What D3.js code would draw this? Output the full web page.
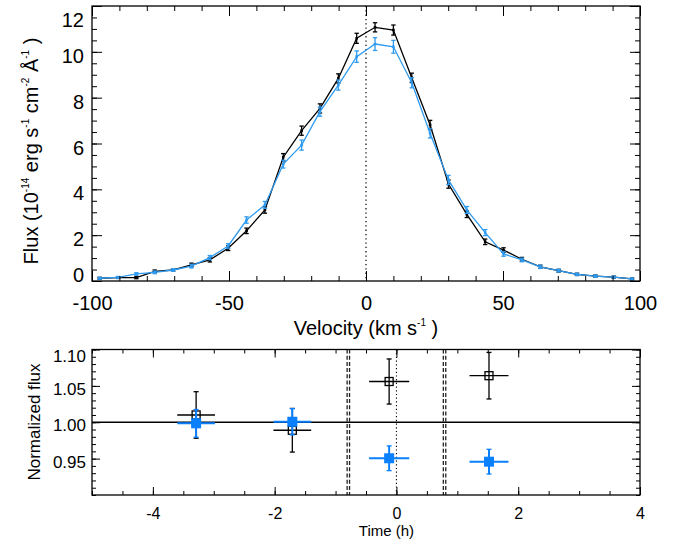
<!DOCTYPE html>
<html><head><meta charset="utf-8">
<script src="https://cdn.jsdelivr.net/npm/d3@7"></script>
<style>
body{margin:0;background:#fff;}
svg{display:block;font-family:"Liberation Sans",Arial,Helvetica,sans-serif;}
</style></head>
<body>
<svg id="chart" width="680" height="545"></svg>
<script>
// ---------- Data (top panel: line profile) ----------
const velocity = [-97.2,-90.5,-83.8,-77.1,-70.4,-63.7,-57.0,-50.3,-43.6,-36.9,-30.2,-23.5,-16.8,-10.1,-3.4,3.3,10.0,16.7,23.4,30.1,36.8,43.5,50.2,56.9,63.6,70.3,77.0,83.7,90.4,97.1];
const fluxBlack = [0.12,0.15,0.15,0.42,0.48,0.70,0.92,1.43,2.19,3.10,5.40,6.56,7.53,8.84,10.59,11.07,10.95,8.87,6.81,4.23,2.91,1.71,1.35,0.95,0.62,0.45,0.29,0.21,0.17,0.09];
const errBlack  = [0.04,0.04,0.05,0.06,0.06,0.08,0.09,0.10,0.12,0.14,0.16,0.20,0.20,0.20,0.22,0.20,0.22,0.20,0.20,0.18,0.14,0.12,0.10,0.08,0.07,0.06,0.05,0.05,0.04,0.04];
const fluxBlue  = [0.12,0.16,0.31,0.38,0.48,0.65,1.02,1.53,2.66,3.32,5.10,5.93,7.39,8.55,9.79,10.34,10.22,8.65,6.44,4.41,3.10,2.11,1.18,0.92,0.62,0.45,0.29,0.21,0.17,0.09];
const errBlue   = [0.04,0.04,0.05,0.06,0.06,0.08,0.09,0.10,0.14,0.15,0.17,0.22,0.20,0.22,0.25,0.28,0.28,0.22,0.20,0.20,0.15,0.13,0.10,0.08,0.07,0.06,0.05,0.05,0.04,0.04];
const velTicks = [-100,-50,0,50,100];
const fluxTicks = [0,2,4,6,8,10,12];

// ---------- Data (bottom panel: light curve) ----------
const times     = [-3.29,-1.71,-0.12,1.52];
const timeErr   = [0.31,0.31,0.33,0.32];
const normBlack = [1.010,0.989,1.056,1.064];
const nErrBlack = [0.032,0.030,0.031,0.032];
const normBlue  = [0.9985,1.0007,0.9505,0.9458];
const nErrBlue  = [0.019,0.018,0.017,0.017];
const transitLines = [-0.81,-0.77,0.77,0.81];
const timeTicks = [-4,-2,0,2,4];
const normTicks = [0.95,1.00,1.05,1.10];

const BLUE = "#2f9bf0";
const BLUE2 = "#0a80ff";
const svg = d3.select("#chart");
svg.append("rect").attr("width",680).attr("height",545).attr("fill","#fff");

function range(a,b,s){const r=[];for(let v=a;v<=b+1e-9;v+=s)r.push(+v.toFixed(4));return r;}
const hy = f => (d => f(d).replace("\u2212","-"));

function frameAxes(g, x, y, w, h, opt){
  const {xMaj,xMin,yMaj,yMin,majL,minL,fs,xPad,yPad,xFmt,yFmt} = opt;
  const sides = [
    {tr:`translate(0,${h})`, lab:true, maj:xMaj, min:xMin, pad:xPad, fmt:xFmt},
    {tr:`translate(0,0)`, lab:false, maj:xMaj, min:xMin},
    {tr:`translate(0,0)`, lab:true, maj:yMaj, min:yMin, pad:yPad, fmt:yFmt},
    {tr:`translate(${w},0)`, lab:false, maj:yMaj, min:yMin}
  ];
  const mk = i => (i===0?d3.axisBottom(x):i===1?d3.axisTop(x):i===2?d3.axisLeft(y):d3.axisRight(y));
  const out = {};
  sides.forEach((s,i)=>{
    const gm = g.append("g").attr("transform",s.tr)
      .call(mk(i).tickValues(s.min).tickSize(-minL).tickSizeOuter(0).tickFormat(""));
    gm.select(".domain").remove();
    gm.selectAll("line").attr("stroke","#000").attr("stroke-width",1);
    const a2 = mk(i).tickValues(s.maj).tickSize(-majL).tickSizeOuter(0).tickPadding(s.pad||0).tickFormat(s.lab?s.fmt:"");
    const gM = g.append("g").attr("transform",s.tr).call(a2);
    gM.select(".domain").remove();
    gM.selectAll("line").attr("stroke","#000").attr("stroke-width",1);
    gM.selectAll("text").attr("font-size",fs).attr("fill","#000").attr("font-family","Liberation Sans, Arial, sans-serif");
    out[i]=gM;
  });
  g.append("rect").attr("width",w).attr("height",h).attr("fill","none").attr("stroke","#000").attr("stroke-width",1.3);
  return out;
}

// ================= TOP PANEL =================
const T = {l:92, t:6, w:548, h:275};
const gT = svg.append("g").attr("transform",`translate(${T.l},${T.t})`);
const xV = d3.scaleLinear().domain([-100,100]).range([0,T.w]);
const yF = d3.scaleLinear().domain([0,12]).range([T.h,0]);

gT.append("line").attr("x1",xV(0)).attr("x2",xV(0)).attr("y1",0).attr("y2",T.h)
  .attr("stroke","#000").attr("stroke-width",1.2).attr("stroke-dasharray","1.3,3");

function profile(vals, errs, color){
  const pts = velocity.map((v,i)=>({v, f:vals[i], e:errs[i]}));
  gT.append("path").datum(pts).attr("fill","none").attr("stroke",color).attr("stroke-width",1.3)
    .attr("d", d3.line().x(d=>xV(d.v)).y(d=>yF(d.f)));
  const eb = gT.append("g").attr("stroke",color).attr("stroke-width",1.3);
  pts.forEach(d=>{
    const x=xV(d.v), y1=yF(d.f+d.e), y2=yF(d.f-d.e);
    eb.append("line").attr("x1",x).attr("x2",x).attr("y1",y1).attr("y2",y2);
    eb.append("line").attr("x1",x-2.2).attr("x2",x+2.2).attr("y1",y1).attr("y2",y1);
    eb.append("line").attr("x1",x-2.2).attr("x2",x+2.2).attr("y1",y2).attr("y2",y2);
    eb.append("rect").attr("x",x-1.3).attr("y",yF(d.f)-1.3).attr("width",2.6).attr("height",2.6).attr("fill",color).attr("stroke","none");
  });
}
profile(fluxBlack, errBlack, "#000");
profile(fluxBlue, errBlue, BLUE);

const axT = frameAxes(gT, xV, yF, T.w, T.h, {
  xMaj:velTicks, xMin:range(-100,100,10), yMaj:fluxTicks, yMin:range(0,12,0.5),
  majL:10, minL:5, fs:20, xPad:15, yPad:8, xFmt:hy(d3.format("d")), yFmt:hy(d3.format("d"))
});
axT[0].selectAll("text").attr("dy","0.71em");
axT[2].selectAll("text").attr("dy", d=> d===12?"1.03em": d===0?"0.03em":"0.53em");

// titles
const xt = svg.append("text").attr("x",T.l+xV(0)).attr("y",335).attr("text-anchor","middle")
  .attr("font-size",20).attr("fill","#000");
xt.append("tspan").text("Velocity (km s");
xt.append("tspan").attr("font-size",10).attr("dy",-9).text("-1");
xt.append("tspan").attr("dy",9).text(" )");

const yt = svg.append("text").attr("transform",`translate(37.5,${151}) rotate(-90)`)
  .attr("text-anchor","middle").attr("font-size",20).attr("fill","#000");
yt.append("tspan").text("Flux (10");
yt.append("tspan").attr("font-size",10).attr("dy",-9).text("-14");
yt.append("tspan").attr("dy",9).text("  erg s");
yt.append("tspan").attr("font-size",10).attr("dy",-9).text("-1");
yt.append("tspan").attr("dy",9).text("  cm");
yt.append("tspan").attr("font-size",10).attr("dy",-9).text("-2");
yt.append("tspan").attr("dy",9).text("  Å");
yt.append("tspan").attr("font-size",10).attr("dy",-9).text("-1");
yt.append("tspan").attr("dy",9).text("  )");

// ================= BOTTOM PANEL =================
const B = {l:92, t:349.5, w:548, h:145.5};
const gB = svg.append("g").attr("transform",`translate(${B.l},${B.t})`);
const xT = d3.scaleLinear().domain([-5,4]).range([0,B.w]);
const yN = d3.scaleLinear().domain([0.90,1.10]).range([B.h,0]);

gB.append("line").attr("x1",0).attr("x2",B.w).attr("y1",yN(1)).attr("y2",yN(1))
  .attr("stroke","#000").attr("stroke-width",1.3);
gB.append("line").attr("x1",xT(0)).attr("x2",xT(0)).attr("y1",0).attr("y2",B.h)
  .attr("stroke","#000").attr("stroke-width",1.1).attr("stroke-dasharray","1.2,2.5");
transitLines.forEach(t=>{
  gB.append("line").attr("x1",xT(t)).attr("x2",xT(t)).attr("y1",0).attr("y2",B.h)
    .attr("stroke","#222").attr("stroke-width",1.3).attr("stroke-dasharray","4,2.2");
});

function lcPoints(vals, errs, color, filled){
  const g = gB.append("g");
  times.forEach((t,i)=>{
    const x=xT(t), y=yN(vals[i]);
    const sw = filled?2:1.3;
    g.append("line").attr("x1",xT(t-timeErr[i])).attr("x2",xT(t+timeErr[i])).attr("y1",y).attr("y2",y)
      .attr("stroke",color).attr("stroke-width",sw);
    const y1=yN(vals[i]+errs[i]), y2=yN(vals[i]-errs[i]);
    g.append("line").attr("x1",x).attr("x2",x).attr("y1",y1).attr("y2",y2).attr("stroke",color).attr("stroke-width",sw);
    g.append("line").attr("x1",x-2.5).attr("x2",x+2.5).attr("y1",y1).attr("y2",y1).attr("stroke",color).attr("stroke-width",1.3);
    g.append("line").attr("x1",x-2.5).attr("x2",x+2.5).attr("y1",y2).attr("y2",y2).attr("stroke",color).attr("stroke-width",1.3);
    if(filled){
      g.append("rect").attr("x",x-5).attr("y",y-5).attr("width",10).attr("height",10).attr("fill",color);
    } else {
      g.append("rect").attr("x",x-4).attr("y",y-4).attr("width",8).attr("height",8)
        .attr("fill","none").attr("stroke",color).attr("stroke-width",1.3);
    }
  });
}
lcPoints(normBlack, nErrBlack, "#000", false);
lcPoints(normBlue, nErrBlue, BLUE2, true);

const axB = frameAxes(gB, xT, yN, B.w, B.h, {
  xMaj:timeTicks, xMin:range(-5,4,0.5), yMaj:normTicks, yMin:range(0.90,1.10,0.01),
  majL:8, minL:4, fs:16, xPad:13, yPad:6, xFmt:hy(d3.format("d")), yFmt:hy(d3.format(".2f"))
});
axB[0].selectAll("text").attr("dy","0.71em");
axB[2].selectAll("text").attr("font-size",17).attr("dy", d=> Math.abs(d-1.10)<1e-6?"0.68em":"0.5em");

svg.append("text").attr("x",B.l+xT(0)-10).attr("y",536).attr("text-anchor","middle")
  .attr("font-size",15).attr("fill","#000").text("Time (h)");
svg.append("text").attr("transform",`translate(40,${422}) rotate(-90)`).attr("text-anchor","middle")
  .attr("font-size",17).attr("fill","#000").text("Normalized flux");
</script>
</body></html>
